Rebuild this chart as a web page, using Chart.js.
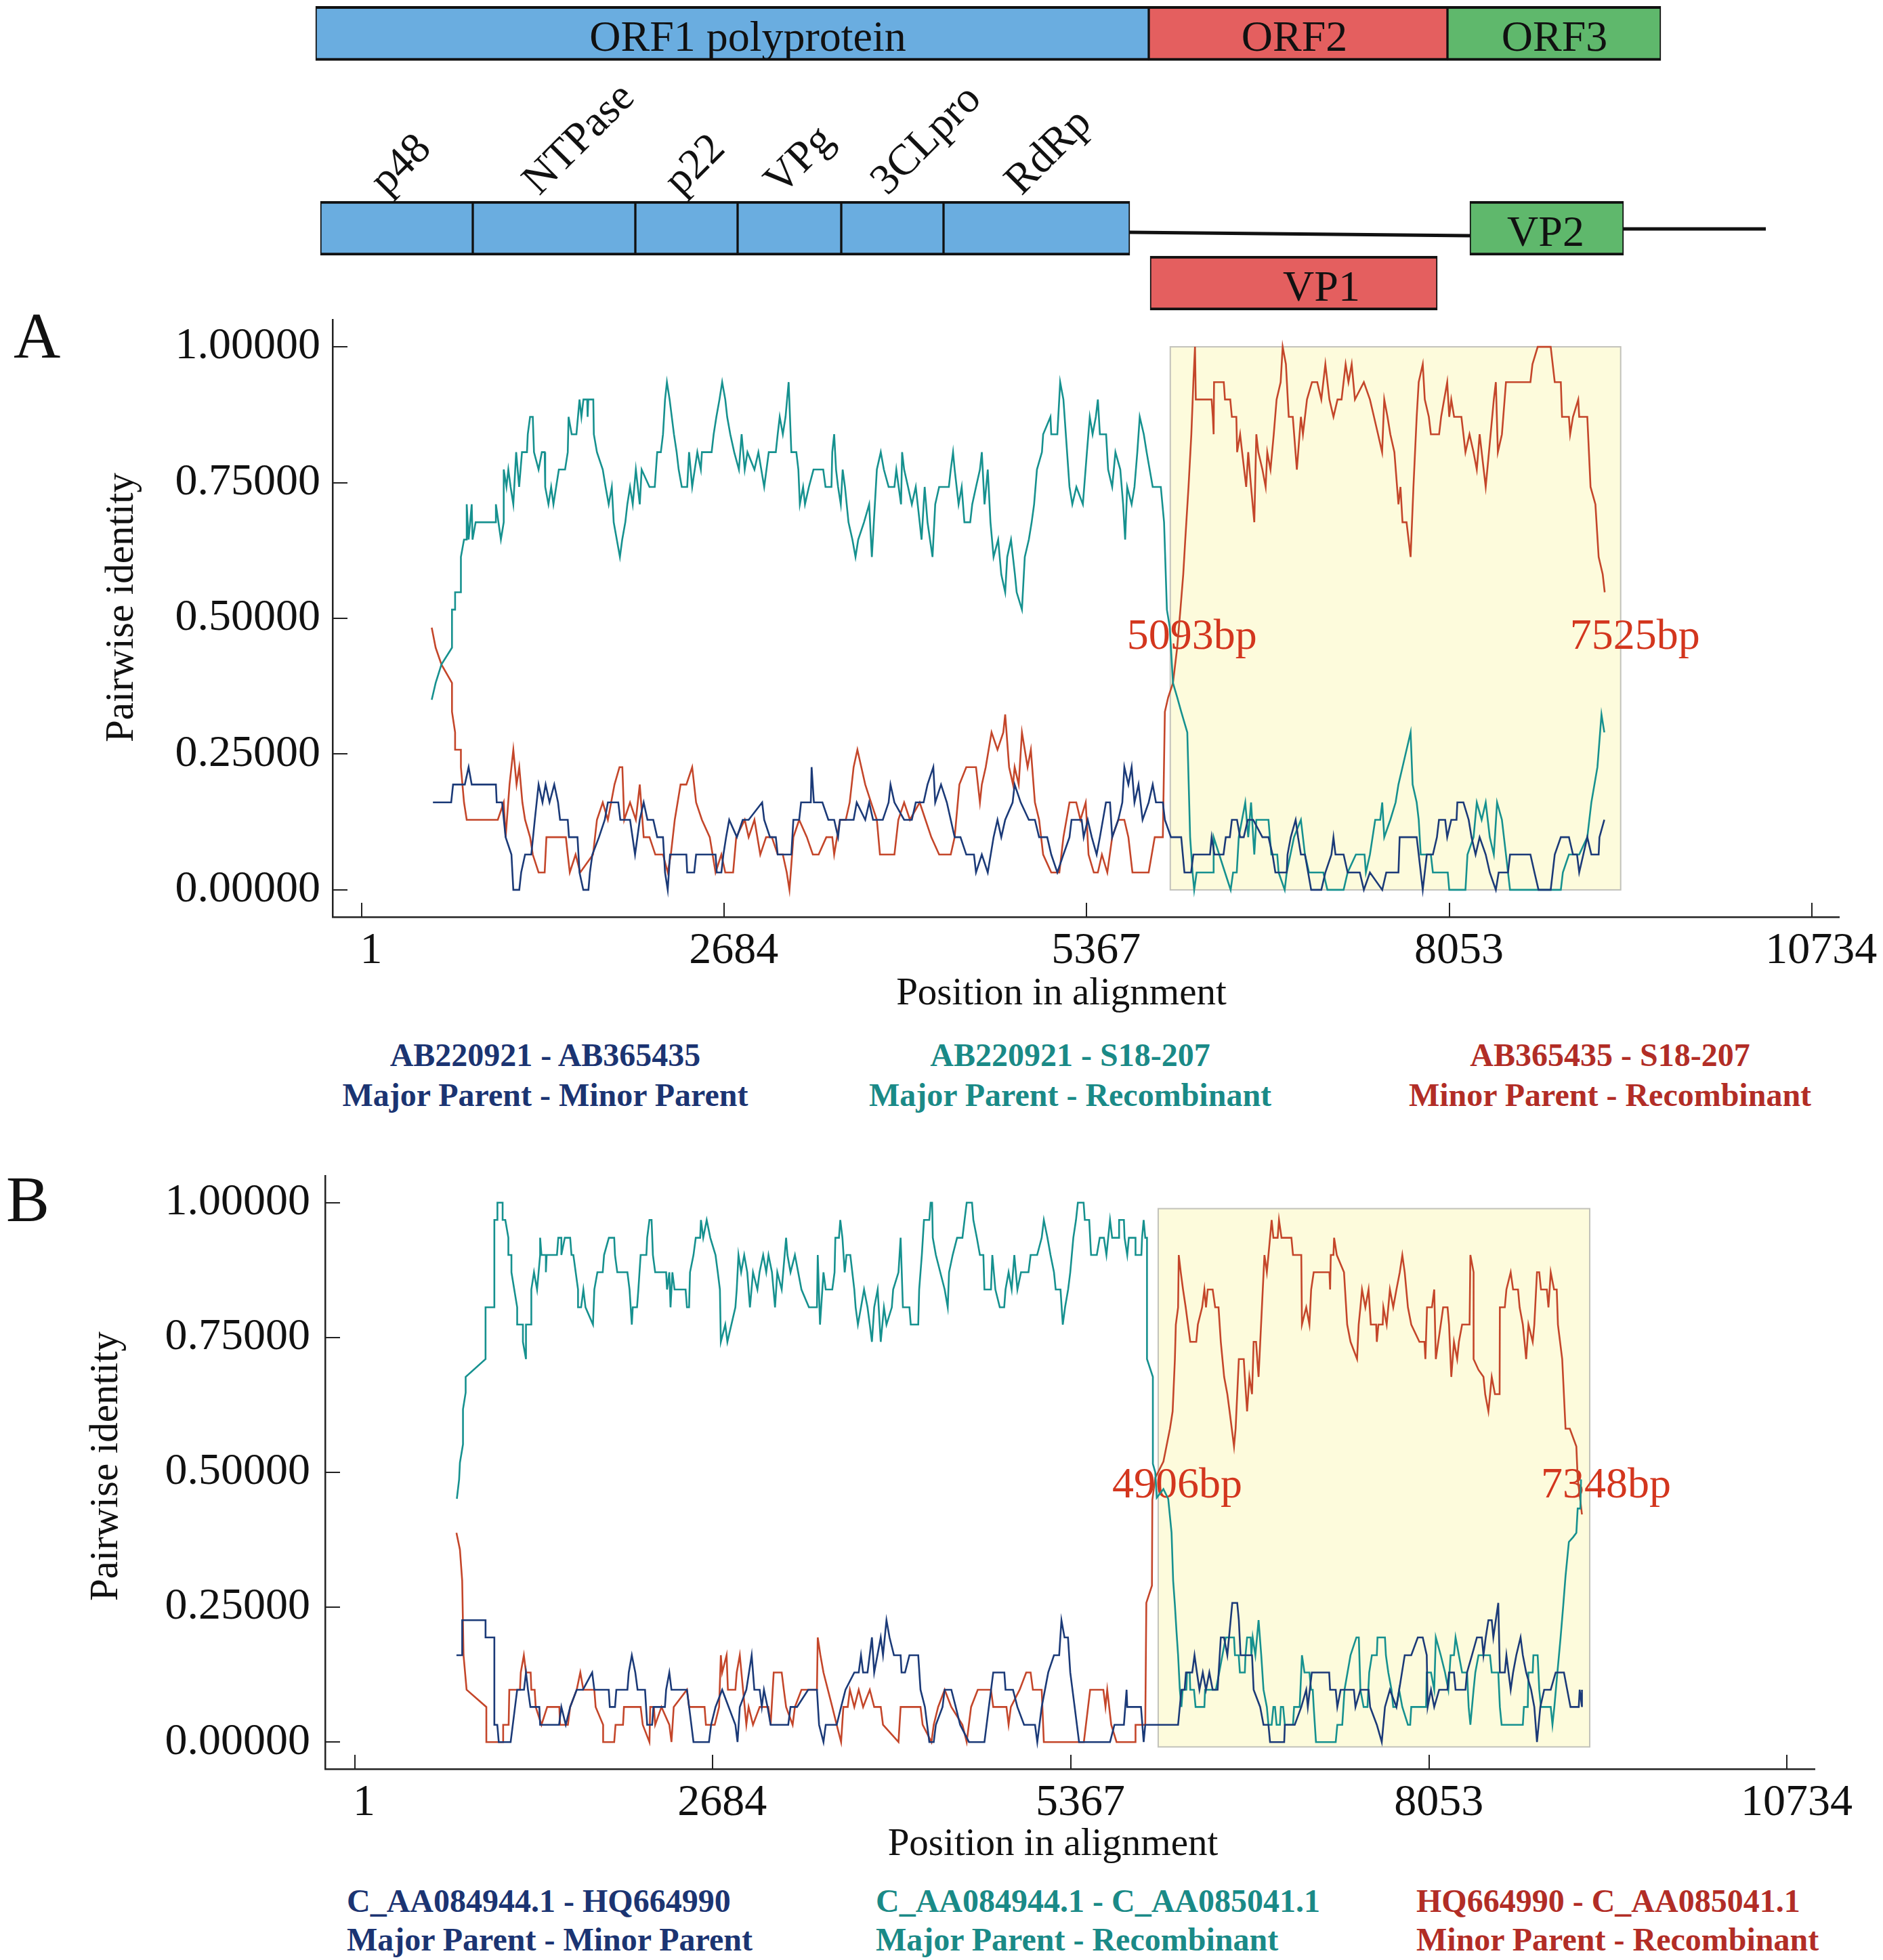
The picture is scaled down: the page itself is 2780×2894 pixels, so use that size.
<!DOCTYPE html>
<html><head><meta charset="utf-8">
<script src="https://cdn.jsdelivr.net/npm/chart.js@4.4.1/dist/chart.umd.min.js"></script>
<style>
html,body{margin:0;padding:0;background:#fff;}
body{width:2780px;height:2894px;position:relative;overflow:hidden;font-family:'Liberation Serif','Times New Roman',serif;}
canvas{position:absolute;left:0;}
.plbl{position:absolute;font-size:96px;line-height:1;color:#111;}
.leg{position:absolute;font-weight:bold;font-size:48px;white-space:nowrap;}
.legc{width:900px;text-align:center;}
</style></head><body>
<canvas id="map" width="2780" height="470" style="top:0px"></canvas>
<div class="plbl" style="left:20px;top:448px">A</div>
<canvas id="chartA" width="2780" height="1064" style="top:440px"></canvas>
<div class="leg legc" style="left:355px;top:1528px;line-height:59px;color:#1b3472">AB220921 - AB365435<br>Major Parent - Minor Parent</div>
<div class="leg legc" style="left:1130px;top:1528px;line-height:59px;color:#1a8a87">AB220921 - S18-207<br>Major Parent - Recombinant</div>
<div class="leg legc" style="left:1927px;top:1528px;line-height:59px;color:#b22d26">AB365435 - S18-207<br>Minor Parent - Recombinant</div>
<div class="plbl" style="left:9px;top:1723px">B</div>
<canvas id="chartB" width="2780" height="1062" style="top:1700px"></canvas>
<div class="leg" style="left:512px;top:2778px;line-height:57px;color:#1b3472">C_AA084944.1 - HQ664990<br>Major Parent - Minor Parent</div>
<div class="leg" style="left:1293px;top:2778px;line-height:57px;color:#1a8a87">C_AA084944.1 - C_AA085041.1<br>Major Parent - Recombinant</div>
<div class="leg" style="left:2091px;top:2778px;line-height:57px;color:#b22d26">HQ664990 - C_AA085041.1<br>Minor Parent - Recombinant</div>
<script>
const FONT = "'Liberation Serif', 'Times New Roman', serif";

// ---------- genome map (positions in nt along the genome drawing) ----------
const MAP_BOX_NAMES = ['ORF1 polyprotein','ORF2','ORF3','p48','NTPase','p22','VPg','3CLpro','RdRp','VP1','VP2'];
const MAP_BOX_START = [0, 6150, 8355, 35, 1160, 2360, 3115, 3880, 4635, 6160, 8520];
const MAP_BOX_END   = [6150, 8355, 9930, 1160, 2360, 3115, 3880, 4635, 6010, 8280, 9655];
const MAP_BOX_ROW   = [4.55, 4.55, 4.55, 1, 1, 1, 1, 1, 1, 0, 1];
const MAP_BOX_KIND  = ['blue','red','green','blue','blue','blue','blue','blue','blue','red','green'];
const MAP_TEXT_NAMES = ['ORF1 polyprotein','ORF2','ORF3','VP1','VP2'];
const MAP_TEXT_X     = [3190, 7225, 9145, 7425, 9080];
const MAP_TEXT_ROW   = [4.55, 4.55, 4.55, 0, 1];
const PROT_NAMES   = ['p48','NTPase','p22','VPg','3CLpro','RdRp'];
const PROT_LABEL_X = [525, 1650, 2695, 3435, 4220, 5210];
const LINK1_X = [6010, 8520], LINK1_ROW = [0.926, 0.864];
const LINK2_X = [9655, 10705], LINK2_ROW = [0.988, 0.988];
const BOX_COLORS = {blue:'#6aade0', red:'#e45f5f', green:'#5fb86c'};

const mapLabelPlugin = {
  id: 'mapLabels',
  afterDatasetsDraw(chart) {
    const {ctx, scales: {x, y}} = chart;
    ctx.save();
    ctx.fillStyle = '#111';
    ctx.font = '64px ' + FONT;
    ctx.textAlign = 'center';
    ctx.textBaseline = 'alphabetic';
    MAP_TEXT_NAMES.forEach((n, i) => {
      ctx.fillText(n, x.getPixelForValue(MAP_TEXT_X[i]), y.getPixelForValue(MAP_TEXT_ROW[i]) + 26);
    });
    ctx.textAlign = 'left';
    const py = y.getPixelForValue(1) - 47;
    PROT_NAMES.forEach((n, i) => {
      ctx.save();
      ctx.translate(x.getPixelForValue(PROT_LABEL_X[i]), py);
      ctx.rotate(-Math.PI / 4);
      ctx.fillText(n, 0, 0);
      ctx.restore();
    });
    ctx.restore();
  }
};

new Chart(document.getElementById('map'), {
  type: 'bar',
  data: {
    datasets: [
      {
        type: 'bar',
        indexAxis: 'y',
        data: MAP_BOX_NAMES.map((n, i) => ({x: [MAP_BOX_START[i], MAP_BOX_END[i]], y: MAP_BOX_ROW[i]})),
        backgroundColor: MAP_BOX_KIND.map(k => BOX_COLORS[k]),
        borderColor: '#111',
        borderWidth: {top: 4, bottom: 4, left: 2, right: 2},
        borderSkipped: false,
        barThickness: 80
      },
      {type: 'line', indexAxis: 'y', data: LINK1_X.map((v, i) => ({x: v, y: LINK1_ROW[i]})), borderColor: '#111', borderWidth: 5, pointRadius: 0},
      {type: 'line', indexAxis: 'y', data: LINK2_X.map((v, i) => ({x: v, y: LINK2_ROW[i]})), borderColor: '#111', borderWidth: 5, pointRadius: 0}
    ]
  },
  options: {
    responsive: false, animation: false, devicePixelRatio: 1,
    layout: {padding: 0, autoPadding: false},
    plugins: {legend: {display: false}, tooltip: {enabled: false}},
    scales: {
      x: {type: 'linear', min: -2330, max: 11570, display: false, offset: false, grid: {offset: false}},
      y: {type: 'linear', min: -0.642, max: 5.160, display: false, offset: false, grid: {offset: false}}
    }
  },
  plugins: [mapLabelPlugin]
});

// ---------- recombination panels ----------
const TICK_X = [1, 2684, 5367, 8053, 10734];
const TICK_Y = [0, 0.25, 0.5, 0.75, 1];
const X_TITLE = 'Position in alignment';
const Y_TITLE = 'Pairwise identity';
const COL_NAVY = '#1b3a78', COL_TEAL = '#16918f', COL_RED = '#c4462a';

// Panel A: [position in alignment, pairwise identity]
const A_majorMinor = [[528,.161],[663,.161],[677,.194],[764,.194],[792,.226],[815,.194],[994,.194],[1000,.161],[1040,.161],[1066,.097],[1109,.065],[1123,0],[1167,0],[1181,.032],[1210,.065],[1256,.065],[1282,.129],[1310,.194],[1339,.161],[1362,.194],[1391,.161],[1426,.194],[1454,.161],[1469,.129],[1526,.129],[1535,.097],[1598,.097],[1613,.032],[1641,0],[1679,0],[1690,.032],[1708,.065],[1757,.097],[1800,.129],[1823,.161],[1900,.161],[1915,.129],[1987,.129],[2024,.065],[2059,.129],[2088,.161],[2116,.129],[2159,.129],[2188,.097],[2231,.097],[2246,.032],[2266,0],[2283,.065],[2404,.065],[2410,.032],[2462,.032],[2476,.065],[2620,.065],[2629,.032],[2663,.032],[2678,.065],[2698,.097],[2721,.129],[2778,.097],[2821,.129],[2865,.129],[2965,.161],[2980,.129],[3023,.097],[3066,.097],[3080,.065],[3181,.065],[3196,.129],[3239,.129],[3253,.161],[3325,.161],[3331,.226],[3348,.161],[3411,.161],[3455,.129],[3498,.129],[3527,.097],[3541,.129],[3642,.129],[3665,.161],[3728,.129],[3757,.161],[3786,.129],[3858,.129],[3901,.161],[3915,.194],[3944,.161],[4016,.129],[4073,.129],[4102,.161],[4160,.161],[4189,.194],[4232,.226],[4246,.161],[4289,.194],[4332,.161],[4361,.129],[4390,.097],[4433,.097],[4476,.065],[4533,.065],[4548,.032],[4591,.065],[4635,.032],[4678,.097],[4707,.129],[4735,.097],[4764,.129],[4819,.161],[4834,.194],[4879,.161],[4939,.129],[4984,.129],[5015,.097],[5075,.097],[5105,.065],[5150,.032],[5195,.065],[5240,.097],[5255,.129],[5330,.129],[5345,.097],[5375,.129],[5405,.097],[5441,.065],[5465,.097],[5510,.161],[5540,.161],[5556,.097],[5601,.129],[5631,.161],[5646,.226],[5676,.194],[5700,.226],[5721,.161],[5751,.194],[5781,.129],[5826,.161],[5856,.194],[5880,.161],[5931,.161],[5946,.129],[5991,.097],[6067,.097],[6091,.032],[6140,.032],[6157,.065],[6280,.065],[6292,.097],[6313,.065],[6380,.065],[6397,.097],[6427,.097],[6442,.129],[6480,.129],[6503,.097],[6530,.097],[6560,.129],[6600,.129],[6668,.097],[6713,.097],[6743,.065],[6764,.032],[6848,.032],[6854,.065],[6878,.097],[6914,.129],[6932,.097],[6953,.065],[6983,.065],[7029,0],[7104,0],[7134,.032],[7179,.065],[7194,.097],[7209,.065],[7269,.065],[7299,.032],[7389,.032],[7419,0],[7464,.032],[7555,0],[7585,.032],[7675,.032],[7684,.097],[7810,.097],[7825,.065],[7855,0],[7885,.065],[7930,.065],[7960,.097],[7975,.129],[8021,.129],[8036,.097],[8066,.129],[8105,.129],[8111,.161],[8156,.161],[8195,.129],[8216,.097],[8246,.065],[8276,.097],[8321,.065],[8351,.032],[8396,0],[8417,.032],[8486,.032],[8501,.065],[8652,.065],[8682,.032],[8712,0],[8802,0],[8832,.065],[8877,.097],[8937,.097],[8967,.065],[8997,.065],[9013,.032],[9073,.097],[9103,.065],[9157,.065],[9163,.097],[9199,.129]];

const A_majorRec = [[519,.350],[548,.381],[591,.415],[669,.446],[669,.516],[692,.516],[692,.548],[735,.548],[735,.613],[758,.645],[778,.645],[778,.710],[792,.645],[815,.710],[821,.645],[844,.677],[994,.677],[994,.710],[1031,.645],[1052,.677],[1052,.774],[1072,.742],[1086,.774],[1103,.742],[1123,.710],[1144,.806],[1166,.742],[1187,.806],[1224,.806],[1230,.839],[1247,.871],[1267,.871],[1276,.806],[1310,.774],[1334,.806],[1355,.806],[1359,.742],[1383,.710],[1403,.742],[1420,.710],[1440,.742],[1460,.774],[1506,.774],[1526,.806],[1532,.871],[1555,.839],[1590,.839],[1613,.903],[1627,.871],[1642,.903],[1670,.903],[1673,.871],[1678,.903],[1715,.903],[1719,.839],[1742,.806],[1785,.774],[1806,.742],[1829,.710],[1852,.742],[1866,.677],[1912,.613],[1929,.645],[1952,.677],[1967,.710],[1987,.742],[2007,.710],[2030,.774],[2059,.710],[2073,.774],[2131,.742],[2170,.742],[2188,.806],[2215,.806],[2231,.839],[2246,.903],[2260,.935],[2280,.903],[2312,.839],[2332,.806],[2347,.774],[2370,.742],[2410,.742],[2424,.806],[2447,.742],[2485,.806],[2511,.774],[2519,.806],[2591,.806],[2606,.839],[2626,.871],[2649,.903],[2669,.935],[2692,.903],[2706,.871],[2729,.839],[2758,.806],[2793,.774],[2813,.839],[2836,.774],[2856,.806],[2908,.774],[2937,.806],[2980,.742],[3014,.806],[3066,.806],[3080,.839],[3095,.871],[3118,.839],[3138,.871],[3161,.935],[3181,.806],[3218,.806],[3233,.774],[3244,.710],[3268,.742],[3282,.710],[3311,.742],[3345,.774],[3417,.774],[3434,.742],[3478,.742],[3484,.806],[3498,.839],[3512,.774],[3527,.742],[3547,.710],[3561,.774],[3578,.742],[3604,.677],[3633,.645],[3656,.613],[3676,.645],[3719,.677],[3757,.710],[3777,.613],[3814,.774],[3843,.806],[3866,.774],[3901,.742],[3944,.742],[3958,.774],[3993,.710],[4001,.806],[4016,.774],[4045,.742],[4073,.710],[4102,.742],[4131,.677],[4145,.645],[4168,.742],[4189,.677],[4226,.613],[4246,.710],[4275,.742],[4347,.742],[4361,.774],[4378,.806],[4390,.774],[4419,.710],[4442,.742],[4462,.677],[4505,.677],[4520,.710],[4548,.742],[4577,.774],[4591,.806],[4611,.710],[4635,.774],[4655,.677],[4678,.613],[4712,.645],[4735,.581],[4764,.548],[4779,.613],[4807,.645],[4836,.581],[4849,.548],[4888,.516],[4909,.613],[4939,.645],[4960,.677],[4978,.710],[4999,.774],[5036,.806],[5045,.839],[5099,.871],[5105,.839],[5150,.839],[5171,.935],[5195,.903],[5240,.742],[5261,.710],[5291,.742],[5339,.710],[5369,.806],[5390,.871],[5411,.839],[5435,.871],[5450,.903],[5465,.839],[5511,.839],[5526,.774],[5556,.742],[5580,.806],[5616,.774],[5637,.710],[5652,.645],[5667,.742],[5700,.710],[5721,.742],[5742,.806],[5760,.871],[5790,.839],[5811,.806],[5856,.742],[5916,.742],[5940,.677],[5961,.516],[5982,.484],[6006,.381],[6037,.355],[6067,.328],[6112,.290],[6133,.097],[6151,.032],[6163,0],[6181,.032],[6307,.032],[6307,.097],[6391,.032],[6433,0],[6451,.032],[6478,.032],[6493,.097],[6517,.129],[6541,.161],[6563,.097],[6584,.161],[6608,.065],[6623,.129],[6713,.129],[6734,.065],[6778,.065],[6788,.032],[6833,0],[6848,.032],[6902,.097],[6953,.129],[6983,.065],[7013,.032],[7119,.032],[7149,0],[7269,0],[7299,.032],[7360,.065],[7424,.065],[7434,.032],[7464,.065],[7503,.129],[7540,.129],[7555,.161],[7570,.097],[7615,.129],[7654,.161],[7675,.194],[7705,.226],[7735,.258],[7765,.290],[7780,.194],[7810,.161],[7825,.129],[7840,.065],[7915,.065],[7930,.032],[8040,.032],[8051,0],[8171,0],[8186,.065],[8231,.097],[8255,.161],[8291,.129],[8321,.161],[8351,.097],[8381,.065],[8405,.161],[8441,.129],[8471,.065],[8501,0],[8877,0],[8892,.032],[8937,.065],[9013,.065],[9073,.097],[9103,.161],[9148,.226],[9178,.323],[9199,.290]];

const A_minorRec = [[519,.483],[548,.446],[591,.415],[669,.381],[669,.328],[692,.290],[692,.258],[735,.258],[735,.226],[758,.161],[778,.129],[1008,.129],[1052,.161],[1066,.097],[1095,.194],[1123,.258],[1147,.194],[1167,.226],[1190,.161],[1210,.129],[1247,.097],[1267,.065],[1310,.032],[1355,.032],[1368,.097],[1512,.097],[1526,.065],[1541,.032],[1584,.065],[1618,.032],[1713,.065],[1742,.129],[1785,.161],[1823,.129],[1872,.194],[1909,.226],[1930,.226],[1944,.129],[1987,.161],[2030,.129],[2059,.194],[2088,.097],[2131,.097],[2174,.065],[2231,.065],[2266,.032],[2289,.065],[2318,.129],[2361,.194],[2404,.194],[2447,.226],[2476,.161],[2519,.129],[2577,.097],[2620,.032],[2663,.065],[2692,.032],[2750,.032],[2773,.097],[2836,.129],[2865,.097],[2908,.129],[2951,.065],[2994,.097],[3037,.097],[3080,.065],[3118,.065],[3147,.032],[3167,0],[3196,.097],[3239,.129],[3296,.097],[3340,.065],[3383,.065],[3440,.097],[3484,.097],[3498,.065],[3541,.129],[3584,.129],[3613,.161],[3642,.226],[3670,.258],[3699,.226],[3728,.194],[3771,.161],[3814,.129],[3837,.065],[3944,.065],[3973,.129],[4016,.161],[4059,.129],[4131,.161],[4174,.129],[4217,.097],[4275,.065],[4361,.065],[4390,.097],[4425,.194],[4476,.226],[4548,.226],[4577,.161],[4591,.194],[4620,.226],[4663,.290],[4707,.258],[4750,.290],[4764,.323],[4793,.226],[4822,.194],[4834,.226],[4864,.194],[4888,.290],[4909,.258],[4930,.226],[4954,.258],[4984,.161],[5015,.129],[5045,.065],[5105,.032],[5165,.032],[5195,.097],[5240,.161],[5290,.161],[5321,.129],[5360,.161],[5381,.065],[5420,.032],[5450,.032],[5480,.065],[5520,.032],[5556,.097],[5601,.129],[5646,.129],[5676,.097],[5706,.032],[5826,.032],[5871,.097],[5931,.097],[5946,.328],[5970,.354],[6006,.381],[6037,.446],[6061,.516],[6082,.581],[6097,.645],[6121,.742],[6142,.839],[6157,.935],[6169,1],[6175,.903],[6292,.903],[6301,.871],[6307,.839],[6310,.935],[6382,.935],[6391,.903],[6430,.903],[6442,.871],[6475,.871],[6481,.806],[6503,.839],[6518,.806],[6533,.774],[6548,.742],[6563,.806],[6584,.742],[6608,.677],[6623,.839],[6638,.806],[6668,.774],[6692,.742],[6704,.806],[6728,.774],[6752,.839],[6773,.903],[6803,.935],[6818,1],[6842,.968],[6863,.871],[6893,.871],[6923,.774],[6953,.871],[6968,.839],[6998,.903],[7035,.935],[7074,.935],[7104,.903],[7134,.968],[7164,.903],[7194,.871],[7224,.903],[7254,.903],[7284,.968],[7305,.935],[7329,.968],[7353,.903],[7419,.935],[7464,.903],[7494,.871],[7524,.839],[7554,.806],[7570,.903],[7594,.871],[7615,.839],[7645,.806],[7675,.710],[7690,.742],[7705,.677],[7735,.677],[7765,.613],[7786,.742],[7810,.871],[7825,.935],[7855,.968],[7870,.903],[7900,.871],[7915,.839],[7976,.839],[7991,.871],[8036,.935],[8051,.871],[8066,.903],[8087,.871],[8141,.871],[8156,.839],[8171,.806],[8201,.839],[8231,.806],[8255,.774],[8276,.839],[8306,.774],[8321,.742],[8345,.806],[8381,.903],[8396,.935],[8411,.806],[8441,.839],[8471,.935],[8652,.935],[8667,.968],[8706,1],[8802,1],[8832,.935],[8877,.935],[8886,.871],[8937,.871],[8946,.839],[8967,.871],[9006,.903],[9013,.871],[9073,.871],[9097,.742],[9133,.710],[9157,.613],[9187,.581],[9202,.548]];

// Panel B: [position in alignment, pairwise identity]
const B_majorMinor = [[764,.161],[807,.161],[807,.226],[982,.226],[982,.194],[1048,.194],[1048,.032],[1070,.032],[1081,0],[1170,0],[1219,.097],[1270,.097],[1285,.129],[1300,.097],[1318,.065],[1385,.065],[1391,.032],[1533,.032],[1550,.065],[1583,.032],[1616,.065],[1665,.097],[1712,.097],[1781,.129],[1797,.097],[1905,.097],[1913,.065],[1952,.065],[1962,.097],[2045,.097],[2055,.129],[2078,.161],[2104,.129],[2121,.097],[2177,.097],[2193,.032],[2230,.032],[2240,.065],[2326,.065],[2335,.097],[2359,.129],[2375,.097],[2491,.097],[2524,.032],[2540,0],[2656,0],[2672,.032],[2705,.065],[2755,.097],[2854,.032],[2870,0],[2887,.065],[2936,.097],[2976,.161],[2996,.097],[3036,.097],[3052,.065],[3068,.097],[3095,.065],[3118,.032],[3250,.032],[3267,.065],[3316,.065],[3399,.097],[3465,.097],[3481,.032],[3514,0],[3531,.032],[3613,.032],[3646,.065],[3679,.097],[3745,.129],[3778,.129],[3795,.161],[3811,.129],[3844,.129],[3877,.194],[3894,.129],[3943,.194],[3960,.161],[3986,.226],[4009,.194],[4042,.161],[4092,.161],[4099,.129],[4125,.129],[4158,.161],[4224,.161],[4241,.097],[4274,.065],[4307,0],[4340,0],[4356,.032],[4406,.065],[4422,.097],[4472,.097],[4505,.065],[4538,.032],[4604,0],[4720,0],[4753,.065],[4786,.129],[4869,.129],[4878,.097],[4934,.097],[4967,.065],[5017,.032],[5099,.032],[5116,0],[5149,.065],[5198,.129],[5241,.161],[5280,.161],[5297,.226],[5320,.194],[5346,.194],[5363,.129],[5396,.065],[5429,0],[5661,0],[5694,.032],[5765,.032],[5785,.097],[5790,.065],[5893,.065],[5913,0],[5925,.032],[6171,.032],[6196,.097],[6220,.097],[6230,.129],[6277,.129],[6294,.161],[6312,.129],[6331,.097],[6356,.129],[6380,.097],[6405,.129],[6430,.097],[6467,.097],[6491,.194],[6515,.194],[6540,.161],[6577,.258],[6614,.258],[6626,.226],[6639,.161],[6725,.161],[6737,.097],[6786,.065],[6811,.032],[6848,.032],[6860,0],[6966,0],[6971,.032],[7045,.032],[7094,.065],[7131,.097],[7143,.065],[7173,.129],[7303,.129],[7310,.097],[7352,.097],[7364,.065],[7389,.097],[7488,.097],[7500,.065],[7537,.097],[7598,.097],[7610,.065],[7660,.032],[7697,0],[7721,.065],[7758,.097],[7807,.065],[7869,.161],[7918,.161],[7967,.194],[8004,.194],[8034,.161],[8041,.065],[8066,.097],[8090,.065],[8127,.097],[8189,.097],[8201,.129],[8238,.129],[8250,.097],[8324,.097],[8336,.129],[8373,.161],[8410,.194],[8447,.194],[8459,.161],[8476,.194],[8496,.226],[8521,.226],[8533,.194],[8570,.258],[8582,.129],[8619,.129],[8631,.161],[8663,.097],[8681,.129],[8705,.161],[8737,.194],[8754,.161],[8779,.129],[8816,.097],[8840,.065],[8860,0],[8885,.065],[8914,.097],[8963,.097],[9000,.129],[9062,.129],[9111,.065],[9173,.065],[9180,.097],[9197,.065],[9197,.097]];

const B_majorRec = [[767,.451],[784,.487],[790,.518],[813,.552],[813,.617],[833,.648],[833,.677],[982,.710],[982,.806],[1048,.806],[1048,.968],[1071,.968],[1071,1],[1110,1],[1110,.968],[1130,.968],[1153,.935],[1153,.903],[1176,.903],[1176,.871],[1219,.806],[1219,.774],[1262,.774],[1262,.742],[1285,.710],[1285,.774],[1325,.774],[1325,.839],[1345,.871],[1368,.839],[1391,.903],[1391,.935],[1401,.903],[1434,.903],[1434,.871],[1440,.903],[1517,.903],[1527,.935],[1550,.935],[1550,.903],[1576,.935],[1616,.935],[1626,.903],[1640,.903],[1675,.839],[1675,.806],[1698,.806],[1715,.839],[1731,.806],[1787,.774],[1797,.839],[1820,.871],[1860,.871],[1870,.903],[1906,.935],[1946,.935],[1952,.903],[1969,.871],[2045,.871],[2061,.839],[2078,.774],[2085,.806],[2117,.806],[2127,.839],[2144,.903],[2187,.903],[2193,.935],[2210,.968],[2226,.968],[2236,.903],[2253,.871],[2335,.871],[2342,.839],[2359,.871],[2368,.806],[2382,.871],[2398,.839],[2481,.839],[2491,.806],[2507,.806],[2514,.871],[2540,.903],[2557,.935],[2590,.935],[2596,.968],[2613,.935],[2639,.968],[2666,.935],[2705,.903],[2722,.871],[2738,.839],[2745,.742],[2778,.774],[2794,.742],[2854,.806],[2864,.839],[2877,.903],[2897,.871],[2920,.903],[2943,.871],[2963,.806],[2986,.871],[3019,.839],[3035,.871],[3062,.903],[3085,.871],[3102,.903],[3128,.871],[3151,.806],[3168,.871],[3201,.839],[3234,.935],[3244,.903],[3267,.871],[3300,.903],[3349,.839],[3405,.806],[3465,.806],[3471,.903],[3488,.774],[3514,.871],[3531,.839],[3580,.839],[3597,.871],[3603,.935],[3630,.935],[3640,.968],[3656,.935],[3673,.871],[3686,.903],[3715,.903],[3745,.839],[3755,.806],[3772,.774],[3795,.806],[3818,.839],[3844,.806],[3861,.774],[3877,.742],[3894,.806],[3920,.839],[3943,.742],[3967,.806],[3986,.774],[4026,.806],[4036,.839],[4076,.871],[4092,.935],[4109,.806],[4158,.806],[4168,.774],[4224,.774],[4231,.839],[4251,.903],[4267,.968],[4307,.968],[4317,1],[4328,1],[4333,.935],[4356,.903],[4389,.871],[4422,.839],[4445,.806],[4455,.871],[4482,.903],[4515,.935],[4555,.935],[4571,.968],[4587,1],[4627,1],[4637,.968],[4663,.935],[4686,.903],[4712,.903],[4720,.839],[4769,.839],[4779,.903],[4802,.839],[4835,.806],[4868,.806],[4878,.839],[4901,.871],[4924,.839],[4944,.903],[4967,.839],[4994,.871],[5050,.871],[5066,.903],[5115,.903],[5149,.935],[5165,.968],[5192,.935],[5215,.903],[5241,.871],[5254,.839],[5290,.839],[5307,.774],[5324,.806],[5347,.839],[5363,.871],[5386,.935],[5406,.968],[5420,1],[5463,1],[5472,.968],[5505,.968],[5519,.903],[5562,.903],[5584,.935],[5615,.935],[5634,.903],[5661,.968],[5677,.935],[5729,.935],[5729,.968],[5765,.968],[5770,.935],[5790,.903],[5802,.935],[5852,.935],[5852,.903],[5896,.903],[5901,.935],[5913,.968],[5925,.935],[5938,.935],[5938,.710],[5982,.677],[5982,.516],[6000,.500],[6011,.453],[6061,.469],[6097,.451],[6122,.388],[6134,.299],[6147,.254],[6159,.205],[6171,.161],[6184,.097],[6196,.065],[6205,.097],[6233,.097],[6238,.129],[6258,.129],[6262,.097],[6290,.097],[6302,.065],[6368,.065],[6373,.097],[6454,.097],[6479,.129],[6503,.161],[6528,.194],[6590,.194],[6597,.161],[6625,.161],[6634,.129],[6671,.129],[6676,.161],[6688,.194],[6715,.194],[6720,.161],[6730,.194],[6750,.161],[6774,.226],[6794,.161],[6811,.097],[6836,.065],[6848,.032],[6872,.032],[6885,.065],[6897,.065],[6909,.032],[6934,.032],[6941,.065],[6958,.065],[6971,.032],[7032,.032],[7040,.065],[7082,.065],[7099,.161],[7118,.129],[7155,.129],[7168,.097],[7180,.097],[7187,.065],[7204,0],[7352,0],[7364,.032],[7401,.032],[7418,.097],[7463,.161],[7507,.194],[7525,.194],[7537,.097],[7561,.065],[7590,.065],[7603,.129],[7623,.161],[7660,.161],[7665,.194],[7721,.194],[7728,.161],[7746,.129],[7770,.097],[7783,.065],[7807,.065],[7827,.097],[7851,.065],[7893,.032],[7910,.032],[7918,.065],[8029,.065],[8034,.129],[8066,.129],[8090,.097],[8102,.194],[8139,.161],[8171,.129],[8196,.097],[8213,.161],[8238,.161],[8250,.194],[8275,.161],[8299,.129],[8336,.129],[8348,.065],[8361,.032],[8385,.097],[8398,.129],[8422,.161],[8508,.161],[8521,.129],[8570,.129],[8582,.065],[8595,.032],[8754,.032],[8762,.065],[8791,.065],[8796,.129],[8828,.129],[8833,.161],[8865,.161],[8877,.097],[8890,.065],[8963,.065],[8976,.032],[8990,.065],[9013,.129],[9037,.194],[9057,.254],[9074,.308],[9099,.371],[9131,.380],[9155,.388],[9165,.433],[9185,.433],[9190,.487]];

const B_minorRec = [[764,.388],[790,.357],[807,.299],[817,.161],[840,.097],[988,.065],[988,0],[1114,0],[1114,.032],[1155,.032],[1160,.097],[1240,.097],[1246,.129],[1269,.161],[1285,.129],[1320,.129],[1325,.097],[1350,.097],[1358,.065],[1401,.032],[1444,.065],[1535,.065],[1540,.032],[1599,.032],[1616,.065],[1665,.097],[1692,.129],[1715,.097],[1797,.097],[1807,.065],[1863,.032],[1863,0],[1946,0],[1956,.032],[2012,.032],[2019,.065],[2144,.065],[2160,.032],[2210,0],[2216,.065],[2243,.065],[2253,.032],[2300,.065],[2359,.032],[2375,0],[2392,.065],[2491,.097],[2507,.065],[2623,.065],[2633,.032],[2699,.032],[2732,.065],[2745,.161],[2755,.129],[2788,.161],[2798,.097],[2854,.097],[2864,.129],[2887,.161],[2936,.032],[2953,.065],[2986,.032],[3036,.065],[3101,.065],[3118,.032],[3141,.129],[3201,.129],[3217,.097],[3234,.065],[3283,.032],[3300,.065],[3349,.097],[3465,.097],[3471,.194],[3491,.161],[3514,.129],[3580,.065],[3613,.032],[3646,0],[3663,.065],[3696,.065],[3712,.097],[3745,.065],[3778,.097],[3811,.065],[3861,.097],[3894,.065],[3943,.065],[3960,.032],[4076,0],[4092,.065],[4241,.065],[4257,.032],[4323,0],[4340,.032],[4373,.065],[4422,.097],[4472,.065],[4555,.032],[4587,0],[4620,.065],[4670,.097],[4769,.097],[4786,.065],[4885,.065],[4901,.032],[4918,.065],[4984,.097],[5033,.129],[5066,.129],[5083,.097],[5149,.097],[5165,0],[5465,0],[5512,.097],[5611,.097],[5627,.065],[5640,.097],[5670,.032],[5710,0],[5852,0],[5852,.032],[5925,.032],[5933,.258],[5975,.290],[5978,.449],[6000,.490],[6061,.520],[6085,.550],[6110,.581],[6130,.613],[6147,.710],[6154,.774],[6171,.806],[6176,.903],[6191,.871],[6208,.839],[6228,.806],[6245,.774],[6262,.742],[6307,.742],[6319,.774],[6351,.806],[6368,.839],[6380,.806],[6393,.839],[6430,.839],[6449,.806],[6474,.806],[6491,.742],[6516,.677],[6540,.645],[6557,.613],[6590,.548],[6602,.581],[6626,.710],[6663,.710],[6671,.677],[6688,.613],[6705,.677],[6725,.645],[6737,.742],[6755,.742],[6774,.677],[6799,.806],[6818,.903],[6836,.871],[6848,.903],[6860,.935],[6872,.968],[6885,.935],[6917,.935],[6927,.968],[6946,.935],[7020,.935],[7032,.903],[7094,.903],[7099,.774],[7131,.806],[7155,.774],[7168,.839],[7187,.871],[7305,.871],[7310,.839],[7315,.903],[7335,.903],[7340,.935],[7360,.903],[7414,.871],[7438,.774],[7463,.742],[7512,.710],[7524,.774],[7537,.806],[7549,.839],[7574,.806],[7598,.839],[7615,.774],[7655,.774],[7660,.742],[7672,.774],[7704,.774],[7709,.806],[7734,.774],[7758,.839],[7783,.806],[7807,.839],[7832,.871],[7851,.903],[7869,.871],[7893,.806],[7918,.774],[7979,.742],[8017,.742],[8024,.710],[8036,.806],[8073,.806],[8090,.839],[8102,.710],[8139,.774],[8157,.806],[8190,.806],[8201,.774],[8218,.677],[8238,.742],[8262,.710],[8275,.742],[8299,.774],[8355,.774],[8361,.903],[8385,.871],[8385,.710],[8422,.690],[8459,.677],[8472,.645],[8496,.613],[8521,.677],[8545,.645],[8580,.645],[8582,.806],[8619,.806],[8631,.839],[8663,.871],[8681,.839],[8718,.839],[8730,.806],[8754,.774],[8767,.742],[8779,.710],[8796,.774],[8828,.742],[8840,.774],[8860,.871],[8877,.871],[8890,.839],[8934,.839],[8946,.806],[8963,.871],[8988,.839],[9008,.839],[9017,.774],[9049,.710],[9074,.581],[9106,.581],[9155,.548],[9165,.489],[9197,.422]];

// recombinant region (alignment positions) and breakpoint labels
const A_REGION = [5986, 9320], A_REGION_Y = [0, 1], A_BP_LABELS = ['5093bp', '7525bp'];
const B_REGION = [6022, 9255], B_REGION_Y = [-0.009, 0.989], B_BP_LABELS = ['4906bp', '7348bp'];

const recombPlugin = {
  id: 'recomb',
  beforeDatasetsDraw(chart, args, o) {
    const {ctx, scales: {x, y}} = chart;
    const l = x.getPixelForValue(o.region[0]), r = x.getPixelForValue(o.region[1]);
    const t = y.getPixelForValue(o.regionY[1]), b = y.getPixelForValue(o.regionY[0]);
    ctx.save();
    ctx.fillStyle = '#fdfbdc';
    ctx.fillRect(l, t, r - l, b - t);
    ctx.strokeStyle = '#c2c2bb';
    ctx.lineWidth = 2;
    ctx.strokeRect(l, t, r - l, b - t);
    ctx.font = '64px ' + FONT;
    ctx.fillStyle = '#d3361e';
    ctx.textAlign = 'left';
    ctx.textBaseline = 'alphabetic';
    const by = y.getPixelForValue(o.labelY);
    ctx.fillText(o.labels[0], l + o.dx[0], by);
    ctx.fillText(o.labels[1], r + o.dx[1], by);
    ctx.restore();
  },
  afterDraw(chart, args, o) {
    const {ctx, chartArea: {left, right, top, bottom}, scales: {x, y}} = chart;
    ctx.save();
    ctx.strokeStyle = '#222';
    ctx.lineWidth = 2;
    ctx.beginPath();
    x.ticks.forEach(t => { const px = Math.round(x.getPixelForValue(t.value)); ctx.moveTo(px, bottom); ctx.lineTo(px, bottom - 21); });
    y.ticks.forEach(t => { const py = Math.round(y.getPixelForValue(t.value)); ctx.moveTo(left, py); ctx.lineTo(left + 22, py); });
    ctx.stroke();
    // axis titles
    ctx.fillStyle = '#111';
    ctx.font = '57px ' + FONT;
    ctx.textAlign = 'center';
    ctx.textBaseline = 'middle';
    ctx.fillText(X_TITLE, (left + right) / 2 + o.titleDx, bottom + o.titleDy);
    ctx.font = '59px ' + FONT;
    ctx.translate(o.yTitleX, (top + bottom) / 2 + o.yTitleDy);
    ctx.rotate(-Math.PI / 2);
    ctx.fillText(Y_TITLE, 0, 0);
    ctx.restore();
  }
};

function xy(series) { return series.map(p => ({x: p[0], y: p[1]})); }

function makePanel(id, g, s, region) {
  const line = (data, color, label) => ({label, data: xy(data), borderColor: color, borderWidth: 2.6, pointRadius: 0, tension: 0, fill: false});
  new Chart(document.getElementById(id), {
    type: 'line',
    data: {datasets: [
      line(s.majorMinor, COL_NAVY, 'Major Parent - Minor Parent'),
      line(s.majorRec, COL_TEAL, 'Major Parent - Recombinant'),
      line(s.minorRec, COL_RED, 'Minor Parent - Recombinant')
    ]},
    options: {
      responsive: false, animation: false, devicePixelRatio: 1,
      layout: {padding: {left: 0, right: g.padRight, top: g.padTop, bottom: 0}},
      plugins: {legend: {display: false}, tooltip: {enabled: false}, recomb: region},
      scales: {
        x: {
          type: 'linear', min: g.xMin, max: g.xMax,
          afterBuildTicks: sc => { sc.ticks = TICK_X.map(v => ({value: v})); },
          afterFit: sc => { sc.height = 150; sc.paddingLeft = 0; sc.paddingRight = 0; },
          grid: {display: true, drawOnChartArea: false, drawTicks: false},
          border: {display: true, color: '#222', width: 2.5},
          ticks: {autoSkip: false, maxRotation: 0, padding: 11, labelOffset: 14, color: '#111', font: {family: FONT, size: 66}, callback: v => String(v)},
          title: {display: false}
        },
        y: {
          type: 'linear', min: -0.05, max: 1.05,
          afterBuildTicks: sc => { sc.ticks = TICK_Y.map(v => ({value: v})); },
          afterFit: sc => { sc.width = g.yWidth; sc.paddingTop = 0; sc.paddingBottom = 0; },
          grid: {display: true, drawOnChartArea: false, drawTicks: false},
          border: {display: true, color: '#222', width: 2.5},
          ticks: {padding: g.yTickPad, color: '#111', font: {family: FONT, size: 66}, callback: v => Number(v).toFixed(5)},
          title: {display: false}
        }
      }
    },
    plugins: [recombPlugin]
  });
}

makePanel('chartA',
  {padRight: 65, padTop: 32, yWidth: 491, xMin: -215, xMax: 10936, yTickPad: 18},
  {majorMinor: A_majorMinor, majorRec: A_majorRec, minorRec: A_minorRec},
  {region: A_REGION, regionY: A_REGION_Y, labels: A_BP_LABELS, labelY: 0.444, dx: [-64, -75], titleDx: -36, titleDy: 114, yTitleX: 180, yTitleDy: -16});

makePanel('chartB',
  {padRight: 101, padTop: 36, yWidth: 480, xMin: -220, xMax: 10940, yTickPad: 22},
  {majorMinor: B_majorMinor, majorRec: B_majorRec, minorRec: B_minorRec},
  {region: B_REGION, regionY: B_REGION_Y, labels: B_BP_LABELS, labelY: 0.4535, dx: [-68, -72], titleDx: -25, titleDy: 112, yTitleX: 157, yTitleDy: -9});
</script>
</body></html>
